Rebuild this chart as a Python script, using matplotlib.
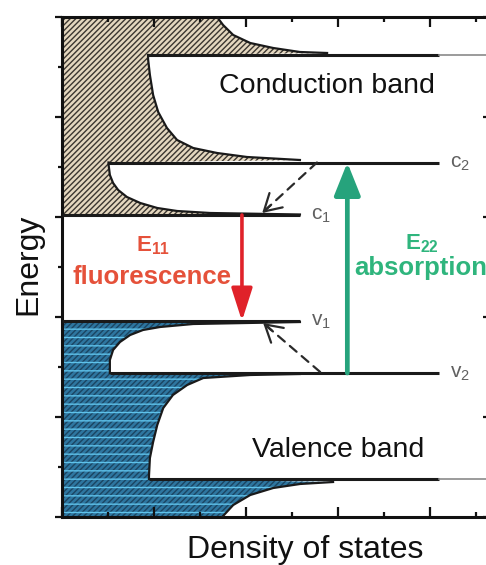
import matplotlib
matplotlib.use('Agg')
import matplotlib.pyplot as plt

plt.rcParams['font.family'] = ['Liberation Sans', 'DejaVu Sans']
plt.rcParams['mathtext.fontset'] = 'custom'
plt.rcParams['mathtext.rm'] = 'Liberation Sans'
plt.rcParams['mathtext.bf'] = 'Liberation Sans:bold'
plt.rcParams['mathtext.it'] = 'Liberation Sans:italic'
plt.rcParams['hatch.linewidth'] = 1.0

# ---------------- data ----------------
# van Hove singularity energies (arb. units)
cond_levels = [6.04, 7.09, 9.24]      # c1, c2, c3
val_levels = [3.92, 2.88, 0.76]       # v1, v2, v3
level_ends = [5.17, 8.2, 8.2]         # DOS reach of each singularity line
level_names_c = ['c$_\\mathregular{1}$', 'c$_\\mathregular{2}$']
level_names_v = ['v$_\\mathregular{1}$', 'v$_\\mathregular{2}$']

# conduction band DOS (energy, density) for each sub-band
c1_E = [6.05, 6.08, 6.12, 6.18, 6.28, 6.40, 6.54, 6.68, 6.84, 7.06]
c1_D = [5.17, 3.22, 2.50, 2.07, 1.70, 1.41, 1.22, 1.11, 1.04, 1.01]
c2_E = [7.14, 7.20, 7.28, 7.38, 7.54, 7.78, 8.10, 8.44, 8.84, 9.16]
c2_D = [5.17, 4.02, 3.37, 2.85, 2.50, 2.28, 2.09, 1.98, 1.91, 1.87]
c3_E = [9.28, 9.30, 9.38, 9.48, 9.64, 9.84, 10.0]
c3_D = [5.76, 5.17, 4.59, 4.09, 3.72, 3.50, 3.37]

# valence band DOS
v1_E = [3.90, 3.86, 3.80, 3.74, 3.64, 3.50, 3.34, 3.14, 2.94]
v1_D = [5.17, 2.85, 2.13, 1.76, 1.48, 1.26, 1.11, 1.04, 1.04]
v2_E = [2.86, 2.84, 2.78, 2.64, 2.44, 2.18, 1.84, 1.50, 1.18, 0.82]
v2_D = [5.17, 4.09, 3.07, 2.72, 2.41, 2.20, 2.07, 1.98, 1.91, 1.89]
v3_E = [0.70, 0.66, 0.58, 0.44, 0.24, 0.0]
v3_D = [5.89, 5.17, 4.59, 4.09, 3.72, 3.48]

# transitions: x position, start energy, end energy
e11_x, e11_from, e11_to = 3.91, 6.04, 3.92
e22_x, e22_from, e22_to = 6.20, 2.88, 7.09
relax_c = [(5.54, 7.09), (4.35, 6.08)]
relax_v = [(5.61, 2.90), (4.37, 3.88)]

# ---------------- figure ----------------
W, H = 486, 565
fig = plt.figure(figsize=(W / 100, H / 100), dpi=100)
ax = fig.add_axes([62 / W, 48 / H, 428 / W, 500 / H])
ax.set_xlim(0, 9.3)
ax.set_ylim(0, 10)

# conduction band filled area
cx = [0] + c1_D + [c1_D[-1]] + c2_D + [c2_D[-1]] + c3_D + [0]
cy = [cond_levels[0]] + c1_E + [cond_levels[1]] + c2_E + [cond_levels[2]] + c3_E + [10]
ax.fill(cx, cy, facecolor='#e4d7bf', edgecolor='#3b3630', hatch='//////', linewidth=0, zorder=1)

# valence band filled area
vx = [0] + v1_D + [v1_D[-1]] + v2_D + [v2_D[-1]] + v3_D + [0]
vy = [val_levels[0]] + v1_E + [val_levels[1]] + v2_E + [val_levels[2]] + v3_E + [0]
ax.fill(vx, vy, facecolor='#2e76a0', edgecolor='#1b4562', hatch='//////', linewidth=0, zorder=1)
ax.fill(vx, vy, facecolor='none', edgecolor='#5fc2ea', hatch='--', linewidth=0, zorder=1.1)

# DOS outlines
lw_c = 1.6
ax.plot(c1_D + [c1_D[-1]], c1_E + [cond_levels[1]], color='#1a1a1a', lw=lw_c, zorder=3)
ax.plot(c2_D + [c2_D[-1]], c2_E + [cond_levels[2]], color='#1a1a1a', lw=lw_c, zorder=3)
ax.plot(c3_D, c3_E, color='#1a1a1a', lw=lw_c, zorder=3)
ax.plot(v1_D + [v1_D[-1]], v1_E + [val_levels[1]], color='#1a1a1a', lw=lw_c, zorder=3)
ax.plot(v2_D + [v2_D[-1]], v2_E + [val_levels[2]], color='#1a1a1a', lw=lw_c, zorder=3)
ax.plot(v3_D, v3_E, color='#1a1a1a', lw=lw_c, zorder=3)

# singularity lines
starts_c = [0, c1_D[-1], c2_D[-1]]
starts_v = [0, v1_D[-1], v2_D[-1]]
for lev, s, e in zip(cond_levels, starts_c, level_ends):
    ax.plot([s, e], [lev, lev], color='#1a1a1a', lw=2.2, zorder=3, solid_capstyle='butt')
for lev, s, e in zip(val_levels, starts_v, level_ends):
    ax.plot([s, e], [lev, lev], color='#1a1a1a', lw=2.2, zorder=3, solid_capstyle='butt')
for lev in (cond_levels[2], val_levels[2]):
    ax.plot([level_ends[2], 9.3], [lev, lev], color='#8a8a8a', lw=1.2, zorder=3)

# level labels
for name, lev, e in zip(level_names_c, cond_levels[:2], level_ends[:2]):
    ax.text(e + 0.24, lev - 0.1, name, fontsize=15, color='#606060', ha='left', va='baseline')
for name, lev, e in zip(level_names_v, val_levels[:2], level_ends[:2]):
    ax.text(e + 0.24, lev - 0.1, name, fontsize=15, color='#606060', ha='left', va='baseline')

# transitions
ax.annotate('', xy=(e11_x, e11_to), xytext=(e11_x, e11_from),
            arrowprops=dict(arrowstyle='-|>,head_length=1.0,head_width=0.32', color='#e0222a',
                            lw=2.6, mutation_scale=20, shrinkA=0, shrinkB=0), zorder=5)
ax.annotate('', xy=(e22_x, e22_to), xytext=(e22_x, e22_from),
            arrowprops=dict(arrowstyle='-|>,head_length=1.0,head_width=0.4', color='#26a37c',
                            lw=3.4, mutation_scale=20, shrinkA=0, shrinkB=0), zorder=5)
for (p0, p1) in (relax_c, relax_v):
    ax.annotate('', xy=p1, xytext=p0,
                arrowprops=dict(arrowstyle='-', color='#2a2a2a', lw=1.6, ls=(0, (4, 3)),
                                shrinkA=0, shrinkB=0), zorder=5)
    dx, dy = p1[0] - p0[0], p1[1] - p0[1]
    ax.annotate('', xy=p1, xytext=(p1[0] - 0.15 * dx, p1[1] - 0.15 * dy),
                arrowprops=dict(arrowstyle='->,head_length=0.6,head_width=0.35', color='#2a2a2a',
                                lw=1.6, mutation_scale=20, shrinkA=0, shrinkB=0), zorder=5)

# texts
ax.text(5.76, 8.48, 'Conduction band', fontsize=20.5, ha='center', va='baseline', color='#111111')
ax.text(6.0, 1.2, 'Valence band', fontsize=20.5, ha='center', va='baseline', color='#111111')
red = '#e5513a'
ax.text(1.97, 5.32, '$\\mathbf{E_{11}}$', fontsize=16, ha='center', va='baseline', color=red)
ax.text(1.96, 4.65, 'fluorescence', fontsize=18.5, fontweight='bold', ha='center', va='baseline', color=red)
green = '#2fb57d'
ax.text(7.46, 5.36, '$\\mathbf{E_{22}}$', fontsize=16, ha='left', va='baseline', color=green)
ax.text(6.35, 4.84, 'absorption', fontsize=18.5, fontweight='bold', ha='left', va='baseline', color=green)

fig.text(28 / W, 1 - 264 / H, 'Energy', rotation=90, fontsize=23, ha='center', va='center', color='#111111')
fig.text(305 / W, 1 - 558 / H, 'Density of states', fontsize=23, ha='center', va='baseline', color='#111111')

# axes styling
for s in ax.spines.values():
    s.set_linewidth(2.2)
    s.set_color('#111111')
ax.set_xticks([0, 2, 4, 6, 8])
ax.set_xticks([1, 3, 5, 7, 9], minor=True)
ax.set_yticks([0, 2, 4, 6, 8, 10])
ax.set_yticks([1, 3, 5, 7, 9], minor=True)
ax.tick_params(axis='x', which='both', direction='in', top=True, bottom=True,
               labelbottom=False, width=1.6, color='#111111')
ax.tick_params(axis='x', which='major', length=7)
ax.tick_params(axis='x', which='minor', length=3.5)
ax.tick_params(axis='y', which='both', direction='out', left=True, right=False,
               labelleft=False, width=1.6, color='#111111')
ax.tick_params(axis='y', which='major', length=5)
ax.tick_params(axis='y', which='minor', length=3)

ax2 = ax.twinx()
ax2.set_ylim(0, 10)
ax2.set_yticks([0, 2, 4, 6, 8, 10])
ax2.set_yticks([1, 3, 5, 7, 9], minor=True)
ax2.tick_params(axis='y', which='both', direction='in', labelright=False, width=1.6, color='#111111')
ax2.tick_params(axis='y', which='major', length=5)
ax2.tick_params(axis='y', which='minor', length=3)
for s in ax2.spines.values():
    s.set_visible(False)

fig.savefig('out.png', dpi=100)
